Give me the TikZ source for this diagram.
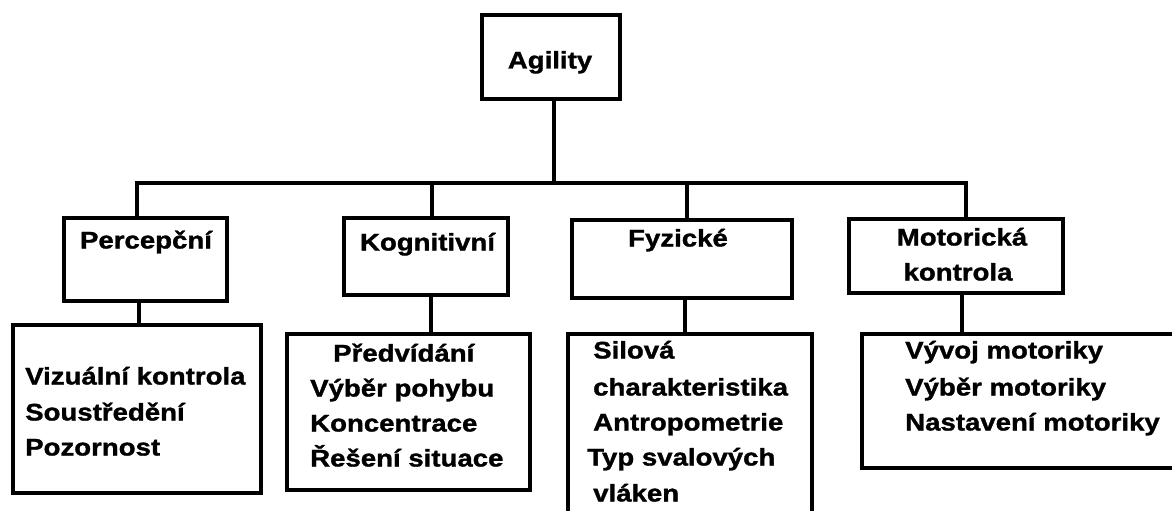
\documentclass[tikz,border=0pt]{standalone}
\usepackage{fontspec}
\setmainfont{Liberation Sans}[FakeStretch=1.15, BoldFeatures={FakeBold=1.3}]
\begin{document}
\begin{tikzpicture}[x=1pt,y=-1pt,
  box/.style={draw=black, line width=4pt, fill=white, inner sep=0pt, line join=miter},
  wire/.style={draw=black, line width=4pt, line join=miter},
  lbl/.style={inner sep=0pt, font=\fontsize{24}{30}\selectfont\bfseries, text=black}]
\useasboundingbox (0,0) rectangle (1172,511);
\fill[white] (0,0) rectangle (1172,511);
\clip (0,0) rectangle (1172,511);

% top node
\node[box, minimum width=138pt, minimum height=84pt] (agility) at (551,57) {};

% category boxes
\node[box, minimum width=163pt, minimum height=83pt] (perc) at (145.5,259.5) {};
\node[box, minimum width=164pt, minimum height=77pt] (kog)  at (426,256.5) {};
\node[box, minimum width=220pt, minimum height=78pt] (fyz)  at (682,259) {};
\node[box, minimum width=214pt, minimum height=74pt] (mot)  at (956,256) {};

% detail boxes
\node[box, minimum width=248pt, minimum height=168pt] (percd) at (137,409) {};
\node[box, minimum width=243pt, minimum height=156pt] (kogd)  at (408.5,412) {};
\node[box, minimum width=244pt, minimum height=224pt] (fyzd)  at (690,446) {};
\node[box, minimum width=366pt, minimum height=134pt] (motd)  at (1045,401) {};

% tree connectors
\coordinate (bus) at (554,182.5);
\coordinate (d1) at ([xshift=-8.5]perc.north);
\coordinate (d2) at ([xshift=6]kog.north);
\coordinate (d3) at ([xshift=5]fyz.north);
\coordinate (d4) at ([xshift=10]mot.north);
\draw[wire] (agility.south -| bus) -- (bus);
\draw[wire] (d1) -- (d1 |- bus) -- (d4 |- bus) -- (d4);
\draw[wire] (d2 |- bus) -- (d2);
\draw[wire] (d3 |- bus) -- (d3);

\coordinate (e1) at ([xshift=-6.5]perc.south);
\coordinate (e2) at ([xshift=5]kog.south);
\coordinate (e3) at ([xshift=3]fyz.south);
\coordinate (e4) at ([xshift=6]mot.south);
\draw[wire] (e1) -- (e1 |- percd.north);
\draw[wire] (e2) -- (e2 |- kogd.north);
\draw[wire] (e3) -- (e3 |- fyzd.north);
\draw[wire] (e4) -- (e4 |- motd.north);

% labels
\node[lbl, anchor=base] (agility-t) at (550,68.5) {Agility};
\node[lbl, anchor=base] (perc-t) at (146,248.5) {Percepční};
\node[lbl, anchor=base] (kog-t) at (427.5,250.5) {Kognitivní};
\node[lbl, anchor=base] (fyz-t) at (678,246.5) {Fyzické};
\node[lbl, anchor=base] (mot-t1) at (962,245.5) {Motorická};
\node[lbl, anchor=base] (mot-t2) at (958,280.5) {kontrola};

\node[lbl, anchor=base west] (p1) at (25,384.5) {Vizuální kontrola};
\node[lbl, anchor=base west] (p2) at (25,420.5) {Soustředění};
\node[lbl, anchor=base west] (p3) at (25,455.5) {Pozornost};

\node[lbl, anchor=base west] (k1) at (333,361.5) {Předvídání};
\node[lbl, anchor=base west] (k2) at (310,396.5) {Výběr pohybu};
\node[lbl, anchor=base west] (k3) at (310,431.5) {Koncentrace};
\node[lbl, anchor=base west] (k4) at (310,466.5) {Řešení situace};

\node[lbl, anchor=base west] (f1) at (593,358.5) {Silová};
\node[lbl, anchor=base west] (f2) at (593,395.5) {charakteristika};
\node[lbl, anchor=base west] (f3) at (593,430.5) {Antropometrie};
\node[lbl, anchor=base west] (f4) at (587,465.5) {Typ svalových};
\node[lbl, anchor=base west] (f5) at (593,501.5) {vláken};

\node[lbl, anchor=base west] (m1) at (905,358.5) {Vývoj motoriky};
\node[lbl, anchor=base west] (m2) at (905,395.5) {Výběr motoriky};
\node[lbl, anchor=base west] (m3) at (905,430.5) {Nastavení motoriky};
\end{tikzpicture}
\end{document}
